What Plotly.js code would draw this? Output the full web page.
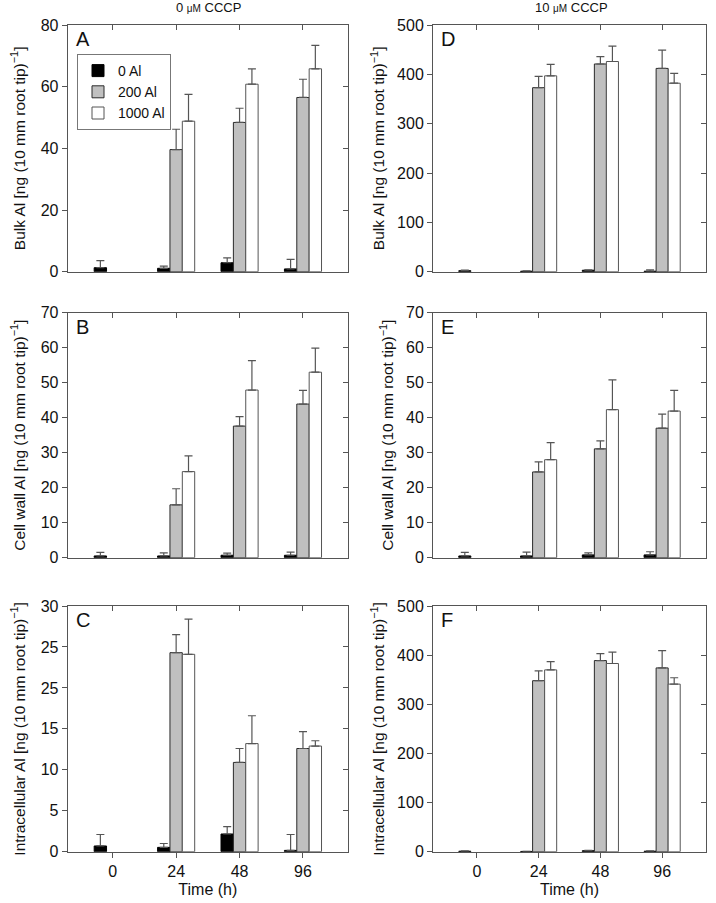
<!DOCTYPE html>
<html>
<head>
<meta charset="utf-8">
<script src="https://cdn.plot.ly/plotly-3.0.1.min.js"></script>
<style>html,body{margin:0;padding:0;background:#fff}#chart{width:716px;height:903px}</style>
</head>
<body>
<div id="chart"></div>
<script>
// ---- data ----
const timeLabels = ['0', '24', '48', '96'];
const seriesNames = ['0 Al', '200 Al', '1000 Al'];

// Panel A: Bulk Al, 0 µM CCCP
const bulk0_al0 = [1.3, 1.1, 2.9, 0.9];      const bulk0_al0_err = [2.3, 0.7, 1.6, 3.1];
const bulk0_al200 = [null, 39.6, 48.4, 56.5]; const bulk0_al200_err = [null, 6.6, 4.6, 5.9];
const bulk0_al1000 = [null, 48.8, 60.8, 65.8]; const bulk0_al1000_err = [null, 8.7, 5.0, 7.6];

// Panel D: Bulk Al, 10 µM CCCP
const bulk10_al0 = [2, 1, 3, 1];              const bulk10_al0_err = [1, 0.5, 1, 3];
const bulk10_al200 = [null, 373, 421, 412];   const bulk10_al200_err = [null, 23, 15, 37];
const bulk10_al1000 = [null, 397, 426, 382];  const bulk10_al1000_err = [null, 23, 31, 20];

// Panel B: Cell wall Al, 0 µM CCCP
const wall0_al0 = [0.5, 0.5, 0.7, 0.7];       const wall0_al0_err = [1.0, 0.9, 0.6, 0.9];
const wall0_al200 = [null, 15.1, 37.6, 43.9]; const wall0_al200_err = [null, 4.6, 2.7, 3.9];
const wall0_al1000 = [null, 24.6, 47.9, 53.0]; const wall0_al1000_err = [null, 4.5, 8.4, 6.9];

// Panel E: Cell wall Al, 10 µM CCCP
const wall10_al0 = [0.5, 0.5, 0.8, 0.8];      const wall10_al0_err = [1.0, 1.1, 0.6, 0.9];
const wall10_al200 = [null, 24.5, 31.1, 37.0]; const wall10_al200_err = [null, 2.9, 2.3, 4.0];
const wall10_al1000 = [null, 28.0, 42.3, 41.9]; const wall10_al1000_err = [null, 4.9, 8.5, 5.9];

// Panel C: Intracellular Al, 0 µM CCCP
const intra0_al0 = [0.7, 0.53, 2.16, 0.16];   const intra0_al0_err = [1.4, 0.47, 0.9, 1.94];
const intra0_al200 = [null, 24.3, 10.9, 12.6]; const intra0_al200_err = [null, 2.2, 1.7, 2.05];
const intra0_al1000 = [null, 24.1, 13.2, 12.9]; const intra0_al1000_err = [null, 4.3, 3.4, 0.65];

// Panel F: Intracellular Al, 10 µM CCCP
const intra10_al0 = [1, 0.5, 2, 1];           const intra10_al0_err = [0.5, 0.3, 0.5, 0.5];
const intra10_al200 = [null, 348, 389, 374];  const intra10_al200_err = [null, 20, 14, 35];
const intra10_al1000 = [null, 370, 383, 341]; const intra10_al1000_err = [null, 17, 23, 13];

// y tick values / labels
const ticksA = [0, 20, 40, 60, 80];
const ticks500 = [0, 100, 200, 300, 400, 500];
const ticks70 = [0, 10, 20, 30, 40, 50, 60, 70];
const ticksC = [0, 5, 10, 15, 20, 25, 30];
const ticksCText = ['0', '5', '10', '15', '25', '25', '30'];

const yTitleBulk = 'Bulk Al [ng (10 mm root tip)<sup>\u22121</sup>]';
const yTitleWall = 'Cell wall Al [ng (10 mm root tip)<sup>\u22121</sup>]';
const yTitleIntra = 'Intracellular Al [ng (10 mm root tip)<sup>\u22121</sup>]';

// ---- panels ----
const panels = [
  {letter: 'A', col: 0, row: 0, ymax: 80, ticks: ticksA, ticktext: null, title: yTitleBulk,
   vals: [bulk0_al0, bulk0_al200, bulk0_al1000], errs: [bulk0_al0_err, bulk0_al200_err, bulk0_al1000_err]},
  {letter: 'D', col: 1, row: 0, ymax: 500, ticks: ticks500, ticktext: null, title: yTitleBulk,
   vals: [bulk10_al0, bulk10_al200, bulk10_al1000], errs: [bulk10_al0_err, bulk10_al200_err, bulk10_al1000_err]},
  {letter: 'B', col: 0, row: 1, ymax: 70, ticks: ticks70, ticktext: null, title: yTitleWall,
   vals: [wall0_al0, wall0_al200, wall0_al1000], errs: [wall0_al0_err, wall0_al200_err, wall0_al1000_err]},
  {letter: 'E', col: 1, row: 1, ymax: 70, ticks: ticks70, ticktext: null, title: yTitleWall,
   vals: [wall10_al0, wall10_al200, wall10_al1000], errs: [wall10_al0_err, wall10_al200_err, wall10_al1000_err]},
  {letter: 'C', col: 0, row: 2, ymax: 30, ticks: ticksC, ticktext: ticksCText, title: yTitleIntra,
   vals: [intra0_al0, intra0_al200, intra0_al1000], errs: [intra0_al0_err, intra0_al200_err, intra0_al1000_err]},
  {letter: 'F', col: 1, row: 2, ymax: 500, ticks: ticks500, ticktext: null, title: yTitleIntra,
   vals: [intra10_al0, intra10_al200, intra10_al1000], errs: [intra10_al0_err, intra10_al200_err, intra10_al1000_err]}
];

// ---- styling / geometry ----
const W = 716, H = 903;
const colX = [[67.7, 348], [433, 706]];
const rowY = [[25, 271.7], [312.7, 557.7], [606, 851.7]];
const titleStandoff = [11, 8];
const fillColors = ['#000000', '#c0c0c0', '#ffffff'];
const lineColors = ['#000000', '#2a2a2a', '#555555'];
const axisColor = '#555555';
const FONT = 'Liberation Sans, Arial, Helvetica, sans-serif';
const xPos = timeLabels.map((_, i) => i);
const xRange = [-0.71, 3.71];

const traces = [];
const layout = {
  width: W, height: H,
  margin: {l: 0, r: 0, t: 0, b: 0},
  paper_bgcolor: '#fff', plot_bgcolor: '#fff',
  font: {family: FONT, size: 16, color: '#111'},
  barmode: 'group', bargap: 0.415, bargroupgap: 0,
  showlegend: true,
  legend: {x: 77 / W, y: 1 - 54 / H, xanchor: 'left', yanchor: 'top',
           bordercolor: '#777', borderwidth: 1, bgcolor: '#fff',
           font: {family: FONT, size: 14, color: '#111'}, tracegroupgap: 0, itemwidth: 30},
  annotations: [], shapes: []
};

panels.forEach((p, k) => {
  const n = k + 1;
  const xid = n === 1 ? 'x' : 'x' + n, yid = n === 1 ? 'y' : 'y' + n;
  const xo = 'x' + (n + 6), yo = 'y' + (n + 6);
  const xd = [colX[p.col][0] / W, colX[p.col][1] / W];
  const yd = [1 - rowY[p.row][1] / H, 1 - rowY[p.row][0] / H];
  const isBottom = p.row === 2;

  for (let s = 0; s < 3; s++) {
    traces.push({
      type: 'bar', name: seriesNames[s], x: xPos, y: p.vals[s],
      xaxis: xid, yaxis: yid, legendgroup: seriesNames[s], showlegend: k === 0,
      marker: {color: fillColors[s], line: {color: lineColors[s], width: 1}},
      error_y: {type: 'data', symmetric: false, array: p.errs[s],
                arrayminus: p.errs[s].map(v => v === null ? null : 0),
                color: '#555', thickness: 1.2, width: 4},
      hoverinfo: 'y'
    });
  }
  traces.push({type: 'scatter', x: [], y: [], xaxis: xo, yaxis: yo, showlegend: false, hoverinfo: 'skip'});

  const xKey = n === 1 ? 'xaxis' : 'xaxis' + n;
  const yKey = n === 1 ? 'yaxis' : 'yaxis' + n;
  const xax = {
    domain: xd, anchor: yid, range: xRange, tickvals: xPos, ticktext: timeLabels,
    showticklabels: isBottom, ticks: isBottom ? 'outside' : '', ticklen: 5, tickcolor: axisColor,
    showline: true, linecolor: axisColor, linewidth: 1, showgrid: false, zeroline: false,
    tickfont: {size: 16, family: FONT, color: '#111'}, fixedrange: true
  };
  if (isBottom) xax.title = {text: 'Time (h)', font: {size: 16, family: FONT, color: '#111'}, standoff: 4};
  layout[xKey] = xax;
  layout['xaxis' + (n + 6)] = {
    overlaying: xid, anchor: yid, side: 'top', range: xRange, tickvals: xPos,
    showticklabels: false, ticks: 'inside', ticklen: 5, tickcolor: axisColor,
    showline: true, linecolor: axisColor, linewidth: 1, showgrid: false, zeroline: false, fixedrange: true
  };
  const yax = {
    domain: yd, anchor: xid, range: [0, p.ymax], tickvals: p.ticks,
    ticks: 'outside', ticklen: 5, tickcolor: axisColor,
    showline: true, linecolor: axisColor, linewidth: 1, showgrid: false, zeroline: false,
    tickfont: {size: 16, family: FONT, color: '#111'}, fixedrange: true,
    title: {text: p.title, font: {size: 15.5, family: FONT, color: '#111'}, standoff: titleStandoff[p.col]}
  };
  if (p.ticktext) yax.ticktext = p.ticktext;
  layout[yKey] = yax;
  layout['yaxis' + (n + 6)] = {
    overlaying: yid, anchor: xid, side: 'right', range: [0, p.ymax], tickvals: p.ticks,
    showticklabels: false, ticks: 'inside', ticklen: 5, tickcolor: axisColor,
    showline: true, linecolor: axisColor, linewidth: 1, showgrid: false, zeroline: false, fixedrange: true
  };

  layout.annotations.push({
    text: p.letter, xref: 'paper', yref: 'paper', showarrow: false,
    x: (colX[p.col][0] + 6) / W, y: 1 - (rowY[p.row][0] + 1) / H,
    xanchor: 'left', yanchor: 'top', font: {size: 20, family: FONT, color: '#111'}
  });
});

layout.annotations.push(
  {text: '0 <span style="font-size:10px">\u03bcM</span> CCCP', xref: 'paper', yref: 'paper', showarrow: false,
   x: 208 / W, y: 1 - 8 / H, xanchor: 'center', yanchor: 'middle', font: {size: 13, family: FONT, color: '#111'}},
  {text: '10 <span style="font-size:10px">\u03bcM</span> CCCP', xref: 'paper', yref: 'paper', showarrow: false,
   x: 571 / W, y: 1 - 8 / H, xanchor: 'center', yanchor: 'middle', font: {size: 13, family: FONT, color: '#111'}}
);

Plotly.newPlot('chart', traces, layout, {displayModeBar: false, staticPlot: true});
</script>
</body>
</html>
